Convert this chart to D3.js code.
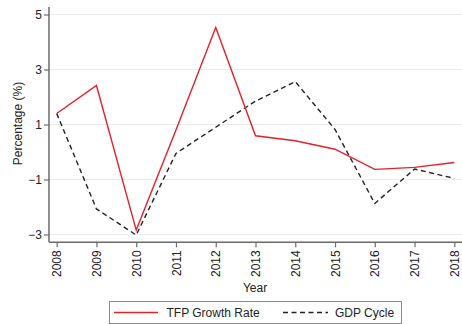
<!DOCTYPE html>
<html>
<head>
<meta charset="utf-8">
<script src="https://cdn.jsdelivr.net/npm/d3@7"></script>
<style>
  html, body { margin: 0; padding: 0; background: #fff; }
  svg { display: block; font-family: "Liberation Sans", Arial, sans-serif; }
</style>
</head>
<body>
<svg id="chart" width="462" height="324"></svg>
<script>
// Years on the x axis
const years = [2008, 2009, 2010, 2011, 2012, 2013, 2014, 2015, 2016, 2017, 2018];
// TFP growth rate (%)
const tfpGrowth = [1.4, 2.42, -2.84, 0.8, 4.53, 0.59, 0.41, 0.1, -0.63, -0.56, -0.38];
// GDP cycle (%)
const gdpCycle = [1.4, -2.07, -3.02, -0.05, 0.9, 1.85, 2.56, 0.82, -1.87, -0.62, -0.96];
// Y tick values
const yTicks = [-3, -1, 1, 3, 5];
// Legend entries
const seriesNames = ["TFP Growth Rate", "GDP Cycle"];

const svg = d3.select("#chart");
const plotLeft = 49, plotRight = 462, plotTop = 7, plotBottom = 242.3;

const x = d3.scaleLinear().domain([2008, 2018]).range([56.7, 454.3]);
const y = d3.scaleLinear().domain([-3, 5]).range([234.5, 14.5]);

// horizontal grid
svg.append("g").selectAll("line").data(yTicks).join("line")
  .attr("x1", plotLeft).attr("x2", plotRight)
  .attr("y1", d => y(d)).attr("y2", d => y(d))
  .attr("stroke", "#ececec").attr("stroke-width", 1.2);

// y axis
const yAxis = svg.append("g").attr("transform", `translate(${plotLeft},0)`)
  .call(d3.axisLeft(y).tickValues(yTicks).tickSize(5).tickPadding(2).tickFormat(d3.format("d")));
yAxis.select(".domain").attr("d", `M0,${plotTop}V${plotBottom}`);

// x axis
const xAxis = svg.append("g").attr("transform", `translate(0,${plotBottom})`)
  .call(d3.axisBottom(x).tickValues(years).tickSize(5).tickPadding(3).tickFormat(d3.format("d")));
xAxis.select(".domain").attr("d", `M${plotLeft},0H${plotRight}`);
xAxis.selectAll("text")
  .attr("transform", "rotate(-90)")
  .attr("text-anchor", "end")
  .attr("dy", "0.35em")
  .attr("x", -8).attr("y", 0);

[yAxis, xAxis].forEach(a => {
  a.select(".domain").attr("stroke", "#6b6b6b").attr("stroke-width", 1.5);
  a.selectAll(".tick line").attr("stroke", "#6b6b6b").attr("stroke-width", 1.2);
  a.selectAll("text").attr("font-size", 12).attr("fill", "#222")
    .attr("font-family", "'Liberation Sans', Arial, sans-serif");
});

// axis titles
svg.append("text").attr("x", 255).attr("y", 292).attr("text-anchor", "middle")
  .attr("font-size", 12).attr("fill", "#222").text("Year");
svg.append("text").attr("transform", "translate(22,123.5) rotate(-90)")
  .attr("text-anchor", "middle").attr("font-size", 12).attr("fill", "#222")
  .text("Percentage (%)");

const line = d3.line().x((d, i) => x(years[i])).y(d => y(d));

svg.append("path").datum(gdpCycle).attr("d", line)
  .attr("fill", "none").attr("stroke", "#222").attr("stroke-width", 1.4)
  .attr("stroke-dasharray", "5,3.5");

svg.append("path").datum(tfpGrowth).attr("d", line)
  .attr("fill", "none").attr("stroke", "#e0222a").attr("stroke-width", 1.4);

// legend
const lg = svg.append("g");
lg.append("rect").attr("x", 109.5).attr("y", 301.5).attr("width", 292).attr("height", 22)
  .attr("fill", "#fff").attr("stroke", "#8a8a8a").attr("stroke-width", 1);
lg.append("line").attr("x1", 114).attr("x2", 158).attr("y1", 312.5).attr("y2", 312.5)
  .attr("stroke", "#e0222a").attr("stroke-width", 1.4);
lg.append("text").attr("x", 166.5).attr("y", 316.5).attr("font-size", 12).attr("fill", "#222")
  .text(seriesNames[0]);
lg.append("line").attr("x1", 283).attr("x2", 328).attr("y1", 312.5).attr("y2", 312.5)
  .attr("stroke", "#222").attr("stroke-width", 1.4).attr("stroke-dasharray", "5,3.5");
lg.append("text").attr("x", 335).attr("y", 316.5).attr("font-size", 12).attr("fill", "#222")
  .text(seriesNames[1]);
</script>
</body>
</html>
